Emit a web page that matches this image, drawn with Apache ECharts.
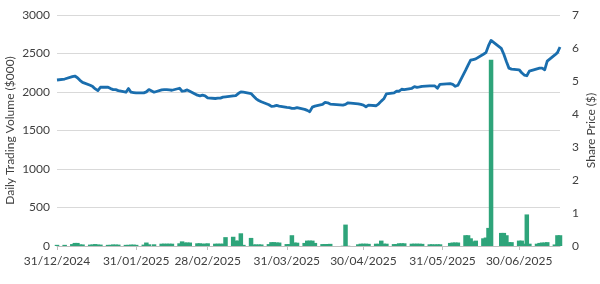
<!DOCTYPE html>
<html>
<head>
<meta charset="utf-8">
<script src="https://cdn.jsdelivr.net/npm/echarts@6/dist/echarts.min.js"></script>
<style>
html,body{margin:0;padding:0;background:#fff;}
#chart{width:600px;height:284px;}
</style>
</head>
<body>
<div id="chart"></div>
<script>
// ---- DATA ----
const startDate = '2024-12-31';
const endDate = '2025-07-16';
// market holidays (no trading)
const holidays = ['2025-01-01','2025-01-02','2025-02-06','2025-04-18','2025-04-21','2025-04-25','2025-06-02','2025-06-20'];
const tickDates = ['2024-12-31','2025-01-31','2025-02-28','2025-03-31','2025-04-30','2025-05-31','2025-06-30'];

// share price ($), one per trading day
const sharePrice = [
  5.03, 5.06,
  5.13, 5.15, 5.10, 5.02, 4.96,
  4.87, 4.83, 4.76, 4.71, 4.81,
  4.81, 4.77, 4.74, 4.74, 4.71,
  4.66, 4.77, 4.66, 4.65, 4.64,
  4.64, 4.67, 4.74, 4.66,
  4.73, 4.74, 4.74, 4.73, 4.72,
  4.78, 4.69, 4.70, 4.73, 4.69,
  4.57, 4.55, 4.57, 4.55, 4.49,
  4.47, 4.48, 4.48, 4.51, 4.52,
  4.55, 4.56, 4.62, 4.67, 4.66,
  4.62, 4.54, 4.46, 4.41, 4.37,
  4.28, 4.23, 4.24, 4.26, 4.24,
  4.20, 4.19, 4.17, 4.17, 4.19,
  4.14, 4.11, 4.07, 4.21, 4.24,
  4.29, 4.35, 4.34, 4.30,
  4.27, 4.29, 4.34,
  4.31, 4.29, 4.27, 4.22, 4.27,
  4.25, 4.31, 4.39, 4.46, 4.61,
  4.64, 4.69, 4.69, 4.75, 4.74,
  4.78, 4.83, 4.81, 4.82, 4.84,
  4.85, 4.85, 4.85, 4.78, 4.90,
  4.92, 4.90, 4.84, 4.87,
  5.32, 5.48, 5.63, 5.65, 5.67,
  5.81, 5.86, 6.07, 6.23,
  5.99, 5.81, 5.59, 5.39, 5.36,
  5.34, 5.25, 5.18, 5.16, 5.30,
  5.37, 5.39, 5.39, 5.34, 5.60,
  5.79, 5.86, 6.03
];

// daily trading volume ($000), one per trading day
const tradingVolume = [
  15, 15,
  25, 40, 40, 20, 20,
  18, 20, 25, 18, 18,
  15, 15, 20, 18, 18,
  15, 15, 18, 18, 15,
  18, 45, 22, 22,
  30, 30, 30, 30, 30,
  35, 60, 45, 45, 45,
  35, 35, 30, 30, 35,
  30, 30, 30, 30, 115,
  120, 70, 70, 165, 15,
  105, 20, 20, 20, 20,
  25, 50, 50, 45, 45,
  25, 25, 140, 45, 43,
  40, 70, 70, 70, 40,
  25, 25, 26, 28,
  3, 278, 3,
  22, 30, 30, 30, 28,
  30, 28, 70, 30, 30,
  25, 25, 35, 35, 35,
  30, 30, 30, 30, 28,
  22, 22, 20, 22, 22,
  40, 45, 45, 45,
  140, 140, 100, 60, 70,
  100, 110, 235, 2420,
  170, 170, 140, 50, 50,
  70, 70, 30, 410, 30,
  30, 40, 45, 45, 50,
  20, 140, 140
];

// ---- BUILD ----
function toTs(s) { const p = s.split('-').map(Number); return new Date(p[0], p[1] - 1, p[2]).getTime(); }
function fmt(d) { const p = n => (n < 10 ? '0' : '') + n; return p(d.getDate()) + '/' + p(d.getMonth() + 1) + '/' + d.getFullYear(); }
const tradingDays = [];
(function () {
  const d = new Date(toTs(startDate)), end = toTs(endDate);
  while (d.getTime() <= end) {
    const iso = d.getFullYear() + '-' + String(d.getMonth() + 1).padStart(2, '0') + '-' + String(d.getDate()).padStart(2, '0');
    const wd = d.getDay();
    if (wd !== 0 && wd !== 6 && holidays.indexOf(iso) < 0) tradingDays.push(d.getTime());
    d.setDate(d.getDate() + 1);
  }
})();
const priceData = tradingDays.map((t, i) => [t, sharePrice[i]]);
const volData = tradingDays.map((t, i) => [t, tradingVolume[i]]);
const tickTs = tickDates.map(toTs);

const txt = '#404040';
const chart = echarts.init(document.getElementById('chart'), null, { renderer: 'canvas' });
chart.setOption({
  animation: false,
  backgroundColor: '#fff',
  textStyle: { fontFamily: 'Lato' },
  grid: { left: 57, right: 40, top: 15, bottom: 38, containLabel: false, outerBoundsMode: 'none' },
  xAxis: {
    type: 'value',
    min: toTs(startDate),
    max: toTs(endDate),
    scale: true,
    axisLine: { show: true, lineStyle: { color: '#bfbfbf', width: 1 } },
    axisTick: { show: true, customValues: tickTs, length: 4, lineStyle: { color: '#bfbfbf' } },
    axisLabel: { customValues: tickTs, formatter: v => fmt(new Date(v)), color: txt, fontSize: 12, fontFamily: 'Lato', margin: 9, hideOverlap: false, alignMinLabel: 'center', alignMaxLabel: 'center' },
    splitLine: { show: false }
  },
  yAxis: [
    {
      type: 'value', min: 0, max: 3000, interval: 500,
      name: 'Daily Trading Volume ($000)', nameLocation: 'middle', nameGap: 41, nameMoveOverlap: false,
      nameTextStyle: { color: txt, fontSize: 12, fontFamily: 'Lato' },
      axisLine: { show: false }, axisTick: { show: false },
      axisLabel: { color: txt, fontSize: 12, fontFamily: 'Lato', margin: 7, formatter: v => String(v) },
      splitLine: { show: true, lineStyle: { color: '#d9d9d9', width: 1 } }
    },
    {
      type: 'value', min: 0, max: 7, interval: 1, position: 'right',
      name: 'Share Price ($)', nameLocation: 'middle', nameGap: 25, nameRotate: 90, nameMoveOverlap: false,
      nameTextStyle: { color: txt, fontSize: 12, fontFamily: 'Lato' },
      axisLine: { show: false }, axisTick: { show: false },
      axisLabel: { color: txt, fontSize: 12, fontFamily: 'Lato', margin: 12 },
      splitLine: { show: false }
    }
  ],
  series: [
    {
      type: 'bar', yAxisIndex: 0, data: volData, barWidth: 4.5,
      itemStyle: { color: '#2ea47a' }, z: 2
    },
    {
      type: 'line', yAxisIndex: 1, data: priceData, showSymbol: false, symbol: 'none',
      lineStyle: { color: '#1a6eae', width: 2.8, join: 'round' }, z: 3
    }
  ]
});
</script>
</body>
</html>
